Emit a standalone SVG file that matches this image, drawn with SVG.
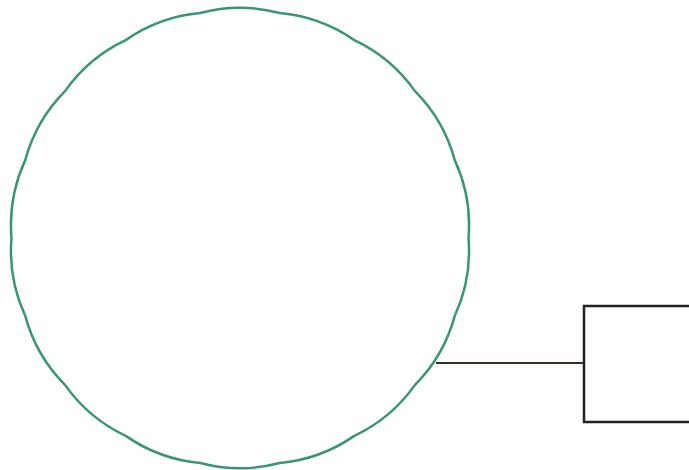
<svg xmlns="http://www.w3.org/2000/svg" width="689" height="470" viewBox="0 0 689 470">
<style>
.blob{fill:none;stroke:#3a9478;stroke-width:2.5;stroke-linejoin:round}
.box{fill:#fff;stroke:#222;stroke-width:2.5}
.edge{fill:none;stroke:#3b2a20;stroke-width:2}
</style>
<rect width="689" height="470" fill="#fff"/>
<g id="edges">
<line class="edge" x1="436" y1="363" x2="584" y2="363"/>
</g>
<g id="circle-node">
<path class="blob" d="M468.5,238 Q471.9,278.9 454.7,316.1 Q443.9,355.75 415,384.9 Q391.4,418.4 354.3,435.9 Q320.5,459.3 279.7,463 Q240,473.5 200.3,463 Q159.5,459.3 125.7,435.9 Q88.6,418.4 65,384.9 Q36.1,355.75 25.3,316.1 Q8.1,278.9 11.5,238 Q8.1,197.1 25.3,159.9 Q36.1,120.25 65,91.1 Q88.6,57.6 125.7,40.1 Q159.5,16.7 200.3,13 Q240,2.5 279.7,13 Q320.5,16.7 354.3,40.1 Q391.4,57.6 415,91.1 Q443.9,120.25 454.7,159.9 Q471.9,197.1 468.5,238 Z"/>
</g>
<g id="box-node">
<rect class="box" x="584" y="306" width="120" height="116"/>
</g>
</svg>
